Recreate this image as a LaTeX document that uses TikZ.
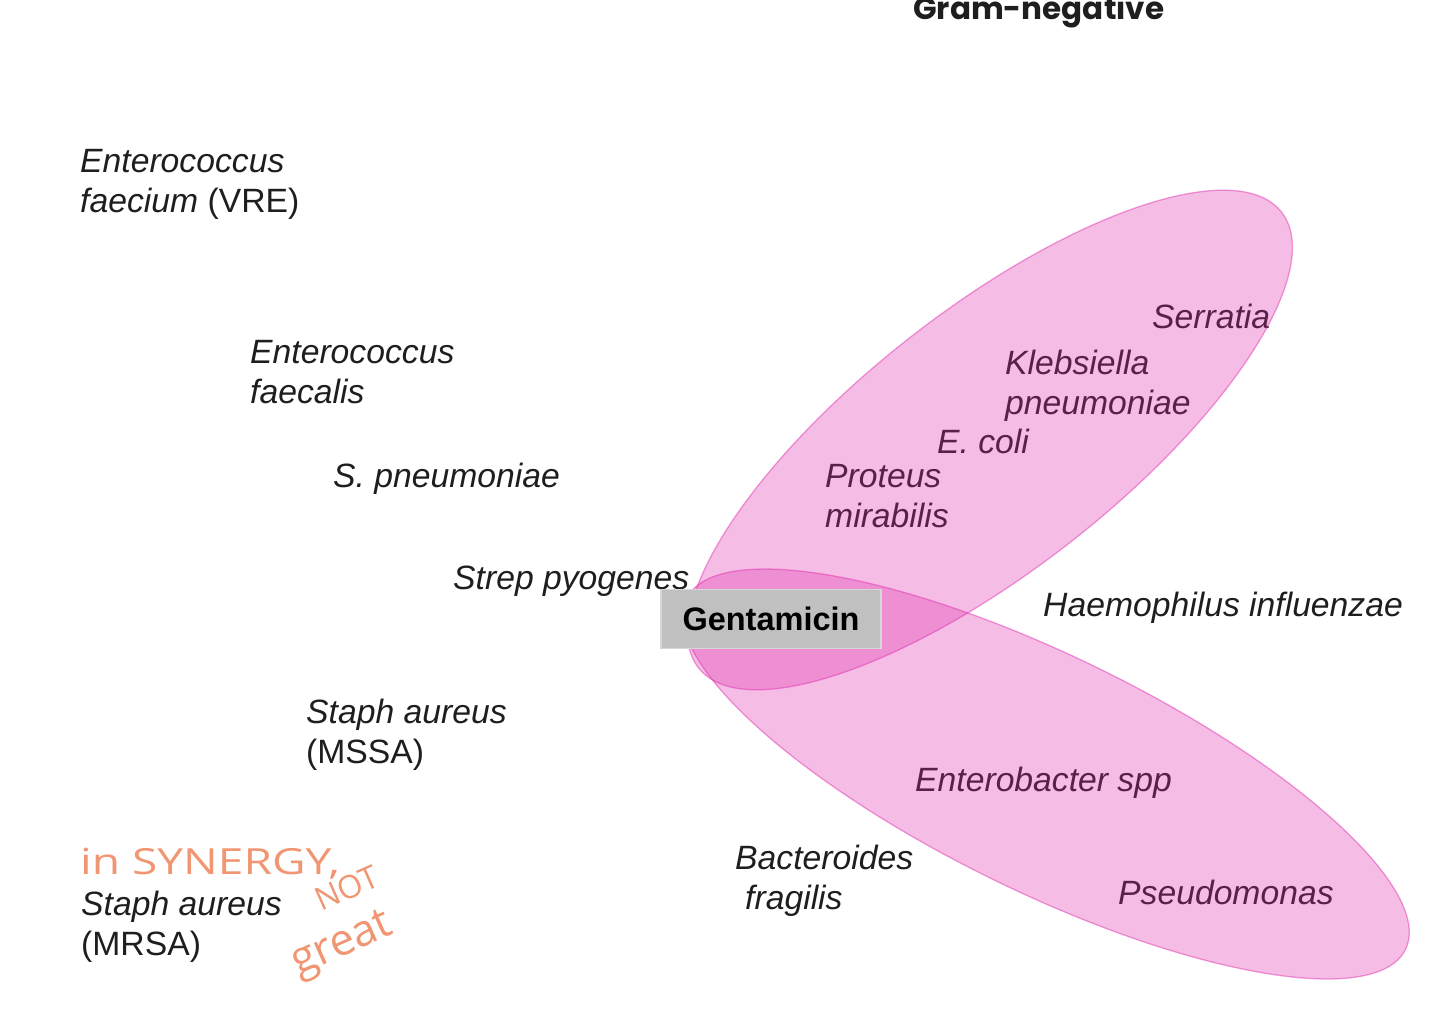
\documentclass[tikz,border=0pt]{standalone}
\usepackage{fontspec}
\setmainfont{Liberation Sans}
\newfontfamily\gramfont{Poppins}
\newfontfamily\handfont{Open Sans}
\definecolor{txt}{RGB}{30,30,30}
\definecolor{pinkfill}{RGB}{222,40,172}
\definecolor{boxgray}{RGB}{192,192,192}
\definecolor{boxline}{RGB}{215,215,215}
\definecolor{hand}{RGB}{240,150,115}
\tikzset{
  lbl/.style={anchor=base west, inner sep=0pt, align=left, text=txt,
    font={\fontsize{33.7}{40}\selectfont\itshape}},
  ell/.style={fill=pinkfill, fill opacity=0.31, draw=pinkfill, draw opacity=0.45, line width=1.3pt},
  handtxt/.style={inner sep=0pt, text=hand, font={\handfont\fontsize{36}{40}\selectfont}},
}
\begin{document}
\begin{tikzpicture}[x=1pt,y=-1pt]
\useasboundingbox (0,0) rectangle (1440,1028);
% title
\node[anchor=base west, inner sep=0pt, text=txt, font={\gramfont\bfseries\fontsize{31}{36}\selectfont}] (gram) at (913,19) {Gram-negative};
% left labels (base = last line)
\node[lbl] (efm) at (80,212) {Enterococcus\\faecium \upshape(VRE)};
\node[lbl] (efs) at (250,403) {Enterococcus\\faecalis};
\node[lbl] (spn) at (333,487) {S. pneumoniae};
\node[lbl] (spy) at (453,589) {Strep pyogenes};
\node[lbl] (mssa) at (306,763) {Staph aureus\\\upshape(MSSA)};
\node[lbl] (mrsa) at (81,955) {Staph aureus\\\upshape(MRSA)};
% right labels
\node[lbl] (ser) at (1152,328) {Serratia};
\node[lbl] (kp) at (1005,414) {Klebsiella\\pneumoniae};
\node[lbl] (eco) at (937,453) {E. coli};
\node[lbl] (pm) at (825,527) {Proteus\\mirabilis};
\node[lbl] (hi) at (1043,616) {Haemophilus influenzae};
\node[lbl] (ent) at (915,791) {Enterobacter spp};
\node[lbl] (bf) at (735,909) {Bacteroides\\\hspace*{10pt}fragilis};
\node[lbl] (ps) at (1118,904) {Pseudomonas};
% ellipses
\path[ell, shift={(990,440)}, rotate=38] (0,0) ellipse [x radius=370pt, y radius=130pt];
\path[ell, shift={(1046,774)}, rotate=-26] (0,0) ellipse [x radius=400pt, y radius=118pt];
% centre box
\node[draw=boxline, fill=boxgray, line width=1.5pt, minimum width=220pt, minimum height=59pt, inner sep=0pt, text=black,
  font={\fontsize{32.5}{36}\selectfont\bfseries}] (gent) at (771,619) {Gentamicin};
% handwriting
\node[handtxt, anchor=base west] (syn) at (80,874) {\scalebox{1.28}[1]{in SYNERGY,}};
\node[handtxt, rotate=24, font={\handfont\fontsize{32}{38}\selectfont}] (not) at (347,888) {NOT};
\node[handtxt, rotate=24, font={\handfont\fontsize{44}{48}\selectfont}] (great) at (343,946) {great};
\end{tikzpicture}
\end{document}
